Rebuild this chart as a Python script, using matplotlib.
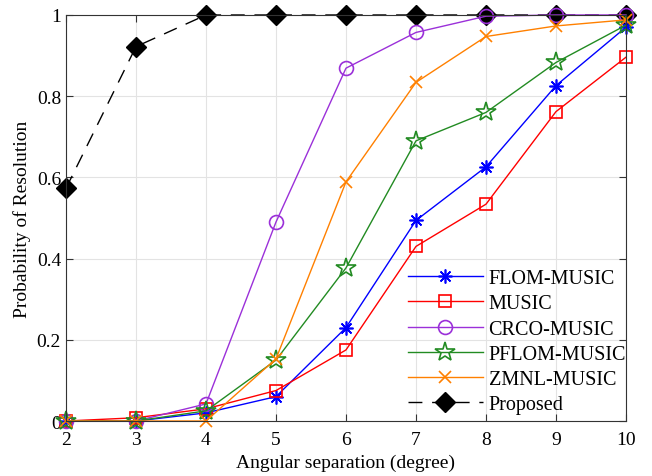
import matplotlib
matplotlib.use("Agg")
import matplotlib.pyplot as plt

plt.rcParams["font.family"] = ["Liberation Serif", "DejaVu Serif"]

# angular separation (degree)
sep = [2, 3, 4, 5, 6, 7, 8, 9, 10]

flom = [0.0, 0.0, 0.02, 0.06, 0.23, 0.494, 0.626, 0.826, 0.97]
music = [0.0, 0.008, 0.03, 0.075, 0.175, 0.43, 0.534, 0.762, 0.896]
crco = [0.0, 0.0, 0.042, 0.49, 0.869, 0.957, 0.997, 1.0, 1.0]
pflom = [0.0, 0.0, 0.025, 0.15, 0.377, 0.69, 0.76, 0.883, 0.975]
zmnl = [0.0, 0.0, 0.0, 0.153, 0.589, 0.834, 0.947, 0.973, 0.988]
proposed = [0.573, 0.922, 1.0, 1.0, 1.0, 1.0, 1.0, 1.0, 1.0]

fig = plt.figure(figsize=(6.52, 4.77), dpi=100)
ax = fig.add_axes([0.1012, 0.1153, 0.8589, 0.8512])

ax.plot(sep, flom, color="#0000ff", lw=1, marker=(8, 2, 0), ms=10,
        mew=1.2, label="FLOM-MUSIC", clip_on=False)
ax.plot(sep, music, color="#ff0000", lw=1, marker="s", ms=9, mfc="none",
        mew=1.2, label="MUSIC", clip_on=False)
ax.plot(sep, crco, color="#9b30d9", lw=1, marker="o", ms=10, mfc="none",
        mew=1.2, label="CRCO-MUSIC", clip_on=False)
ax.plot(sep, pflom, color="#228b22", lw=1, marker="*", ms=15, mfc="none",
        mew=1.2, label="PFLOM-MUSIC", clip_on=False)
ax.plot(sep, zmnl, color="#ff8000", lw=1, marker="x", ms=9,
        mew=1.2, label="ZMNL-MUSIC", clip_on=False)
ax.plot(sep, proposed, color="black", lw=1, ls=(0, (10, 7)), marker="D",
        ms=10, label="Proposed", zorder=1.9, clip_on=False)

ax.set_xlim(2, 10)
ax.set_ylim(0, 1)
ax.set_xticks(sep)
ax.set_yticks([0, 0.2, 0.4, 0.6, 0.8, 1])
ax.set_yticklabels(["0", "0.2", "0.4", "0.6", "0.8", "1"])
ax.grid(True, color="#e3e3e3", lw=0.8)
ax.set_axisbelow(True)
ax.tick_params(direction="in", top=True, right=True, labelsize=14,
               length=5, color="#333333")
ax.tick_params(axis="x", pad=7)
for s in ax.spines.values():
    s.set_color("#333333")
    s.set_linewidth(0.8)

ax.set_xlabel("Angular separation (degree)", fontsize=14, labelpad=4)
ax.set_ylabel("Probability of Resolution", fontsize=14, labelpad=4)

# legend without a box, handles start near x = 7.5
leg = ax.legend(loc="lower left", bbox_to_anchor=(408 / 652, 1 - 415 / 477),
                bbox_transform=fig.transFigure, fontsize=14.5,
                handlelength=3.7, frameon=False, borderpad=0,
                borderaxespad=0, labelspacing=0.3, handletextpad=0.3)
leg.set_zorder(5)

fig.savefig("out.png", dpi=100)
